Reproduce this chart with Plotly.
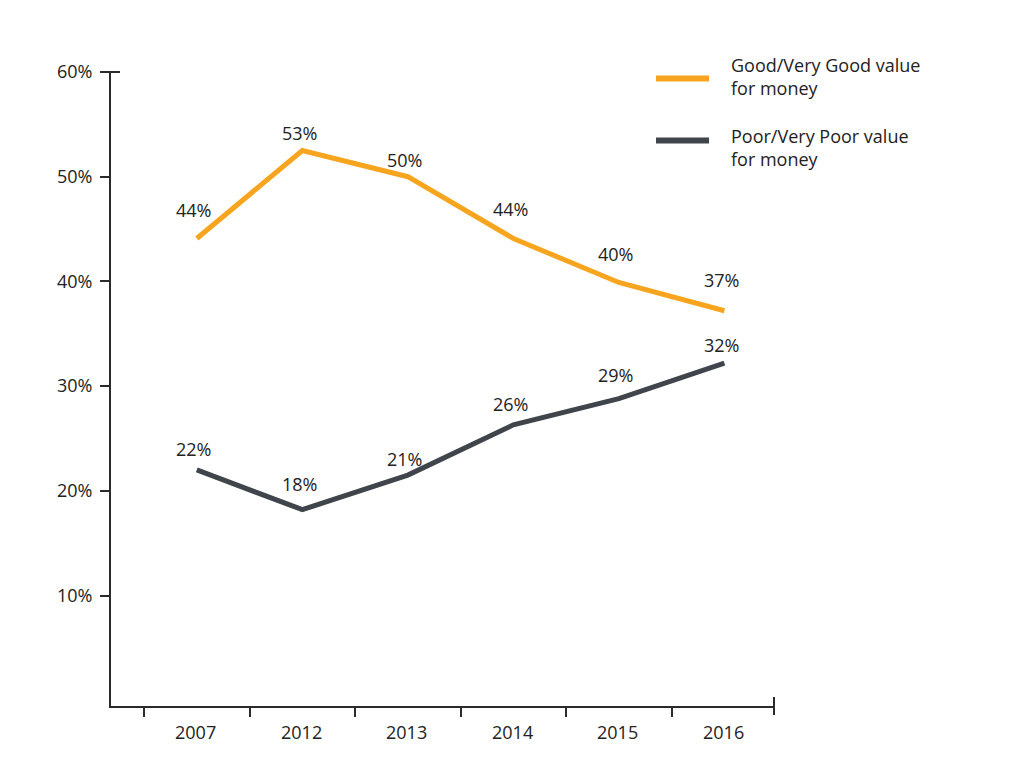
import plotly.graph_objects as go

years = ["2007", "2012", "2013", "2014", "2015", "2016"]
good_values = [44.1, 52.5, 50.0, 44.1, 39.9, 37.2]
poor_values = [22.0, 18.2, 21.5, 26.3, 28.8, 32.2]
good_labels = ["44%", "53%", "50%", "44%", "40%", "37%"]
poor_labels = ["22%", "18%", "21%", "26%", "29%", "32%"]
good_name = "Good/Very Good value<br>for money"
poor_name = "Poor/Very Poor value<br>for money"
y_ticks = [10, 20, 30, 40, 50, 60]
y_tick_text = ["10%", "20%", "30%", "40%", "50%", "60%"]

# label offsets (pixels) above each point
good_label_shift = [28, 18, 17, 29, 28, 31]
poor_label_shift = [21, 26, 16, 21, 24, 18]

ORANGE = "#F7A51E"
DARK = "#40454C"
AXIS = "#2b2b2b"
TEXT = "#222222"
FONT = "Open Sans"
FS = 18

x_idx = list(range(len(years)))

fig = go.Figure()
fig.add_trace(go.Scatter(x=x_idx, y=good_values, mode="lines",
                         line=dict(color=ORANGE, width=5), showlegend=False,
                         name=good_name))
fig.add_trace(go.Scatter(x=x_idx, y=poor_values, mode="lines",
                         line=dict(color=DARK, width=5), showlegend=False,
                         name=poor_name))

annotations = []
for i, (v, t, s) in enumerate(zip(good_values, good_labels, good_label_shift)):
    annotations.append(dict(x=i, y=v, text=t, showarrow=False, yshift=s, xshift=-3,
                            font=dict(family=FONT, size=FS, color=TEXT)))
for i, (v, t, s) in enumerate(zip(poor_values, poor_labels, poor_label_shift)):
    annotations.append(dict(x=i, y=v, text=t, showarrow=False, yshift=s, xshift=-3,
                            font=dict(family=FONT, size=FS, color=TEXT)))

# category labels at centers
for i, yr in enumerate(years):
    annotations.append(dict(x=i, y=0, xref="x", yref="paper", text=yr, showarrow=False,
                            yanchor="top", yshift=-12, xshift=-1,
                            font=dict(family=FONT, size=FS, color=TEXT)))

# manual legend
legend_items = [(good_name, ORANGE, 0.9897, 0.9928), (poor_name, DARK, 0.8918, 0.8807)]
shapes = []
for name, col, ly, ty in legend_items:
    shapes.append(dict(type="line", xref="paper", yref="paper", x0=0.822, x1=0.902,
                       y0=ly, y1=ly, line=dict(color=col, width=6)))
    annotations.append(dict(x=0.932, y=ty, xref="paper", yref="paper", text=name,
                            showarrow=False, xanchor="left", yanchor="middle", align="left",
                            font=dict(family=FONT, size=FS, color=TEXT)))

# end caps on axes
shapes.append(dict(type="line", xref="paper", yref="paper", xsizemode="pixel", xanchor=0,
                   x0=-9, x1=9, y0=1, y1=1, line=dict(color=AXIS, width=2)))
shapes.append(dict(type="line", xref="paper", yref="paper", ysizemode="pixel", yanchor=0,
                   y0=-9, y1=9, x0=1, x1=1, line=dict(color=AXIS, width=2)))

fig.update_layout(
    width=1008, height=762,
    margin=dict(l=103, r=242, t=64, b=64),
    paper_bgcolor="white", plot_bgcolor="white",
    font=dict(family=FONT, size=FS, color=TEXT),
    annotations=annotations, shapes=shapes,
    xaxis=dict(range=[-0.813, 5.47], tickvals=[i - 0.5 for i in range(len(years))],
               ticktext=["" for _ in years], ticks="outside", ticklen=9, tickwidth=2,
               tickcolor=AXIS, showline=True, linecolor=AXIS, linewidth=2,
               showgrid=False, zeroline=False, fixedrange=True),
    yaxis=dict(range=[-0.55, 60], tickvals=y_ticks, ticktext=y_tick_text,
               ticks="outside", ticklen=9, tickwidth=2, tickcolor=AXIS,
               showline=True, linecolor=AXIS, linewidth=2, showgrid=False,
               zeroline=False, ticklabelstandoff=4, fixedrange=True),
)

fig.write_html("out.html")
